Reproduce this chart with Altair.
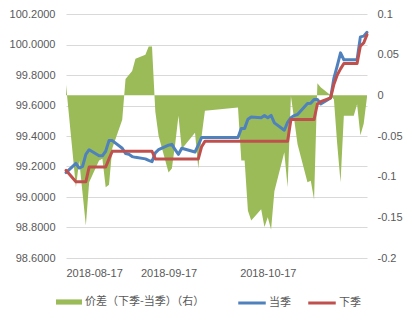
import altair as alt
import pandas as pd

# ---------------- data ----------------
dates = [
    "2018-08-17",
    "2018-08-20", "2018-08-21", "2018-08-22", "2018-08-23", "2018-08-24",
    "2018-08-27", "2018-08-28", "2018-08-29", "2018-08-30", "2018-08-31",
    "2018-09-03", "2018-09-04", "2018-09-05", "2018-09-06", "2018-09-07",
    "2018-09-10", "2018-09-11", "2018-09-12", "2018-09-13", "2018-09-14",
    "2018-09-17", "2018-09-18", "2018-09-19", "2018-09-20", "2018-09-21",
    "2018-09-25", "2018-09-26", "2018-09-27", "2018-09-28",
    "2018-10-08", "2018-10-09", "2018-10-10", "2018-10-11", "2018-10-12",
    "2018-10-15", "2018-10-16", "2018-10-17", "2018-10-18", "2018-10-19",
    "2018-10-22", "2018-10-23", "2018-10-24", "2018-10-25", "2018-10-26",
    "2018-10-29", "2018-10-30", "2018-10-31", "2018-11-01", "2018-11-02",
    "2018-11-05", "2018-11-06", "2018-11-07", "2018-11-08", "2018-11-09",
    "2018-11-12", "2018-11-13", "2018-11-14", "2018-11-15", "2018-11-16",
]

current_q = [
    99.16,
    99.22, 99.19, 99.20, 99.28, 99.31,
    99.27, 99.27, 99.30, 99.37, 99.37,
    99.32, 99.285, 99.28, 99.265, 99.26,
    99.25, 99.24, 99.232, 99.29, 99.31,
    99.34, 99.345, 99.31, 99.28, 99.32,
    99.295, 99.34, 99.39, 99.39,
    99.39, 99.45, 99.45, 99.51, 99.525,
    99.52, 99.534, 99.52, 99.535, 99.486,
    99.438, 99.49, 99.52, 99.534, 99.541,
    99.613, 99.615, 99.64, 99.64, 99.61,
    99.65, 99.78, 99.86, 99.945, 99.90,
    99.90, 99.90, 100.05, 100.055, 100.08,
]

next_q = [
    99.175,
    99.10, 99.10, 99.10, 99.10, 99.197,
    99.197, 99.197, 99.197, 99.25, 99.30,
    99.30, 99.30, 99.30, 99.30, 99.30,
    99.30, 99.30, 99.30, 99.25, 99.25,
    99.25, 99.25, 99.25, 99.25, 99.25,
    99.25, 99.25, 99.33, 99.365,
    99.365, 99.365, 99.365, 99.365, 99.365,
    99.365, 99.365, 99.365, 99.365, 99.365,
    99.365, 99.365, 99.508, 99.508, 99.508,
    99.508, 99.508, 99.508, 99.61, 99.625,
    99.65, 99.74, 99.80, 99.84, 99.875,
    99.875, 99.875, 99.99, 100.01, 100.065,
]

spread = [
    0.013,
    -0.113, -0.08, -0.12, -0.16, -0.107,
    -0.08, -0.078, -0.113, -0.11, -0.065,
    -0.03, 0.02, 0.025, 0.03, 0.045,
    0.05, 0.06, 0.06, -0.02, -0.05,
    -0.095, -0.09, -0.06, -0.025, -0.066,
    -0.046, -0.09, -0.05, -0.019,
    -0.015, -0.08, -0.08, -0.142, -0.154,
    -0.14, -0.162, -0.15, -0.165, -0.118,
    -0.07, -0.113, -0.001, -0.03, -0.06,
    -0.107, -0.105, -0.128, 0.015, 0.01,
    0.0, -0.005, -0.06, -0.107, -0.025,
    -0.025, -0.011, -0.049, -0.035, -0.002,
]

left_ticks = [98.6, 98.8, 99.0, 99.2, 99.4, 99.6, 99.8, 100.0, 100.2]
right_ticks = [-0.2, -0.15, -0.1, -0.05, 0, 0.05, 0.1]
x_label_dates = ["2018-08-17", "2018-09-17", "2018-10-17"]

LEG_AREA = "价差（下季-当季）（右）"
LEG_CUR = "当季"
LEG_NXT = "下季"

GREEN = "#9BBB59"
BLUE = "#4F81BD"
RED = "#C0504D"
GRID = "#D9D9D9"
TXT = "#595959"
NUM_FONT = "Liberation Sans"
CJK_FONT = "Noto Sans CJK SC"
LEG_FS = 11
LEG_Y = 275

# ---------------- tables ----------------
area_df = pd.DataFrame({"date": dates, "spread": spread, "s_area": LEG_AREA})
cur_df = pd.DataFrame({"date": dates, "value": current_q, "series": LEG_CUR})
nxt_df = pd.DataFrame({"date": dates, "value": next_q, "series": LEG_NXT})


def dt(s):
    y, m, d = (int(p) for p in s.split("-"))
    return alt.DateTime(year=y, month=m, date=d, utc=True)


def legend(x, symbol, stroke_w):
    return alt.Legend(
        title=None, orient="none", legendX=x, legendY=LEG_Y,
        direction="horizontal",
        symbolType=symbol, symbolSize=676, symbolStrokeWidth=stroke_w,
        symbolOpacity=1,
        labelFont=CJK_FONT, labelFontSize=LEG_FS, labelColor=TXT,
        labelOffset=3, padding=0, labelLimit=400,
    )


x_enc = alt.X(
    "date:T",
    scale=alt.Scale(type="utc", domain=[dt(dates[0]), dt(dates[-1])]),
    axis=alt.Axis(
        values=[dt(s) for s in x_label_dates],
        format="%Y-%m-%d",
        grid=False, ticks=False, domain=False,
        labelPadding=9, title=None,
    ),
)

area = alt.Chart(area_df).mark_area(opacity=1, interpolate="linear").encode(
    x=x_enc,
    y=alt.Y(
        "spread:Q",
        scale=alt.Scale(domain=[-0.2, 0.1], nice=False, zero=False),
        axis=alt.Axis(
            orient="right", values=right_ticks, labelExpr="'' + datum.value",
            grid=False, ticks=False, domain=False, labelPadding=10, title=None,
        ),
    ),
    y2=alt.datum(0),
    fill=alt.Fill(
        "s_area:N",
        scale=alt.Scale(domain=[LEG_AREA], range=[GREEN]),
        legend=legend(-10, "M-1,-0.2H1V0.2H-1Z", 0),
    ),
)

y_left = alt.Y(
    "value:Q",
    scale=alt.Scale(domain=[98.6, 100.2], nice=False, zero=False),
    axis=alt.Axis(
        values=left_ticks, format=".4f", grid=True, gridColor=GRID,
        gridWidth=1, ticks=False, domain=False, labelPadding=11, title=None,
    ),
)

LINE_SYM = "M-1,-0.06H1V0.06H-1Z"

line_cur = alt.Chart(cur_df).mark_line(
    strokeWidth=3, strokeJoin="round", strokeCap="round"
).encode(
    x=x_enc, y=y_left,
    stroke=alt.Stroke(
        "series:N",
        scale=alt.Scale(domain=[LEG_CUR], range=[BLUE]),
        legend=legend(172, LINE_SYM, 1.5),
    ),
)
line_nxt = alt.Chart(nxt_df).mark_line(
    strokeWidth=3, strokeJoin="round", strokeCap="round"
).encode(
    x=x_enc, y=y_left,
    color=alt.Color(
        "series:N",
        scale=alt.Scale(domain=[LEG_NXT], range=[RED]),
        legend=legend(242, LINE_SYM, 1.5),
    ),
)

lines = alt.layer(line_cur, line_nxt)

chart = alt.layer(area, lines).resolve_scale(
    y="independent"
).properties(
    width=301, height=244,
    padding={"left": 66, "top": 14, "right": 45, "bottom": 62},
    autosize="none",
    background="white",
).configure_view(
    stroke=None
).configure_axis(
    labelFont=NUM_FONT, labelFontSize=11, labelColor=TXT,
)

chart.save("out.html", embed_options={"renderer": "svg", "actions": False})
